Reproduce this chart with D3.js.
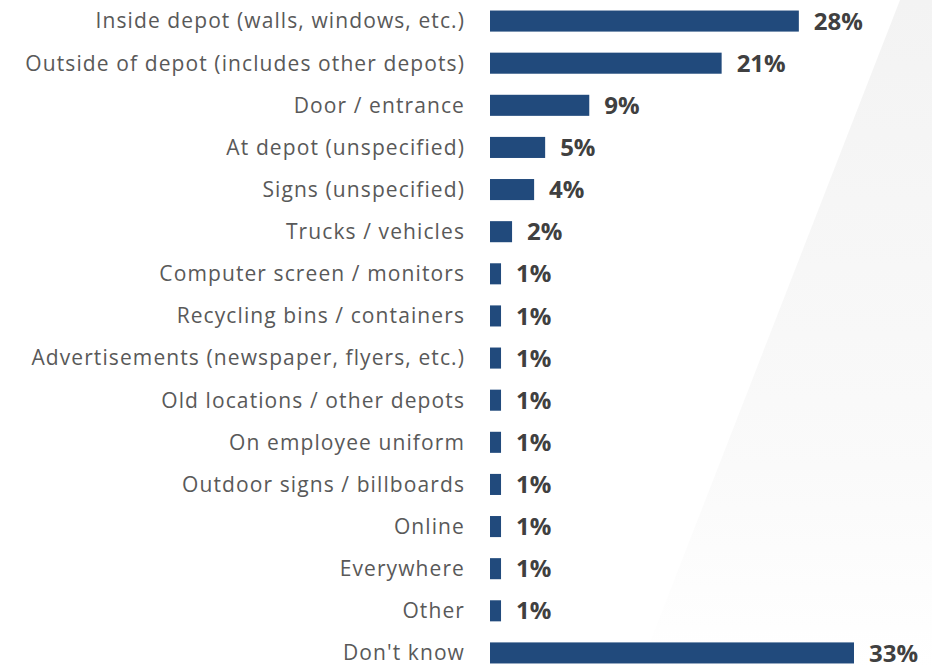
<!DOCTYPE html>
<html>
<head>
<meta charset="utf-8">
<script src="https://cdn.jsdelivr.net/npm/d3@7/dist/d3.min.js"></script>
<style>
  html, body { margin: 0; padding: 0; background: #ffffff; }
  svg { display: block; }
</style>
</head>
<body>
<div id="chart"></div>
<script>
// Where respondents noticed the advertising (share of respondents)
const categories = [
  "Inside depot (walls, windows, etc.)",
  "Outside of depot (includes other depots)",
  "Door / entrance",
  "At depot (unspecified)",
  "Signs (unspecified)",
  "Trucks / vehicles",
  "Computer screen / monitors",
  "Recycling bins / containers",
  "Advertisements (newspaper, flyers, etc.)",
  "Old locations / other depots",
  "On employee uniform",
  "Outdoor signs / billboards",
  "Online",
  "Everywhere",
  "Other",
  "Don't know"
];
const values = [28, 21, 9, 5, 4, 2, 1, 1, 1, 1, 1, 1, 1, 1, 1, 33];
const valueLabels = ["28%", "21%", "9%", "5%", "4%", "2%", "1%", "1%", "1%", "1%", "1%", "1%", "1%", "1%", "1%", "33%"];

const W = 932, H = 668;
const barLeft = 490;

const svg = d3.select("#chart").append("svg")
  .attr("width", W).attr("height", H);

// faint grey wash along the right edge
const defs = svg.append("defs");
const grad = defs.append("linearGradient").attr("id", "bgfade")
  .attr("x1", "0").attr("y1", "0").attr("x2", "0").attr("y2", "1");
grad.append("stop").attr("offset", "0").attr("stop-color", "#f3f3f3");
grad.append("stop").attr("offset", "0.7").attr("stop-color", "#fafafa");
grad.append("stop").attr("offset", "1").attr("stop-color", "#ffffff");
svg.append("rect").attr("width", W).attr("height", H).attr("fill", "#ffffff");
svg.append("path")
  .attr("d", `M900,0 L${W},0 L${W},${H} L640,${H} Z`)
  .attr("fill", "url(#bgfade)");

const x = d3.scaleLinear().domain([0, 33]).range([barLeft, barLeft + 364]);
const y = d3.scaleBand().domain(categories).range([0, 674]).paddingInner(0.5).paddingOuter(0.25);

const rows = categories.map((c, i) => ({ c, v: values[i], label: valueLabels[i] }));

svg.append("g").selectAll("rect").data(rows).join("rect")
  .attr("x", x(0))
  .attr("y", d => y(d.c))
  .attr("width", d => x(d.v) - x(0))
  .attr("height", y.bandwidth())
  .attr("fill", "#214a7c");

// category names, right-aligned next to the bars
svg.append("g").selectAll("text").data(rows).join("text")
  .attr("x", 465)
  .attr("y", d => y(d.c) + y.bandwidth() / 2)
  .attr("dy", "0.35em")
  .attr("text-anchor", "end")
  .attr("font-family", "'Open Sans', sans-serif")
  .attr("font-size", 21)
  .attr("letter-spacing", "1.1px")
  .attr("fill", "#595959")
  .text(d => d.c);

// percentage labels at bar ends
svg.append("g").selectAll("text").data(rows).join("text")
  .attr("x", d => x(d.v) + 15)
  .attr("y", d => y(d.c) + y.bandwidth() / 2)
  .attr("dy", "0.36em")
  .attr("font-family", "'Open Sans', sans-serif")
  .attr("font-weight", "bold")
  .attr("font-size", 24)
  .attr("fill", "#404040")
  .text(d => d.label);
</script>
</body>
</html>
